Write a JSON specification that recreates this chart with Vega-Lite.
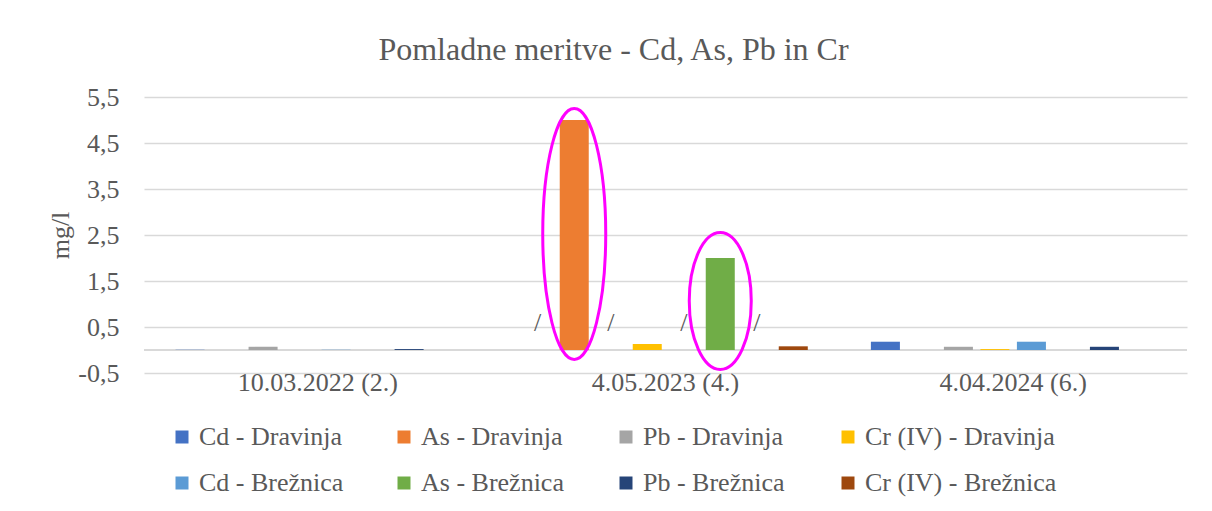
{
  "$schema": "https://vega.github.io/schema/vega-lite/v6.json",
  "width": 1043,
  "height": 276,
  "autosize": {"type": "none"},
  "padding": {"left": 144, "top": 97, "right": 25, "bottom": 138},
  "background": "white",
  "config": {
    "font": "Liberation Serif",
    "view": {"stroke": null}
  },
  "title": {
    "text": "Pomladne meritve - Cd, As, Pb in Cr",
    "font": "Liberation Serif",
    "fontSize": 32,
    "fontWeight": "normal",
    "color": "#595959",
    "anchor": "middle",
    "dx": -52,
    "baseline": "alphabetic",
    "offset": -8
  },
  "data": {
    "values": [
      {"date": "10.03.2022 (2.)", "series": "Cd - Dravinja", "value": 0.005, "note": null},
      {"date": "10.03.2022 (2.)", "series": "Pb - Dravinja", "value": 0.07, "note": null},
      {"date": "10.03.2022 (2.)", "series": "Cd - Brežnica", "value": 0.005, "note": null},
      {"date": "10.03.2022 (2.)", "series": "Pb - Brežnica", "value": 0.02, "note": null},
      {"date": "4.05.2023 (4.)", "series": "Cd - Dravinja", "value": null, "note": "/"},
      {"date": "4.05.2023 (4.)", "series": "As - Dravinja", "value": 5.0, "note": null},
      {"date": "4.05.2023 (4.)", "series": "Pb - Dravinja", "value": null, "note": "/"},
      {"date": "4.05.2023 (4.)", "series": "Cr (IV) - Dravinja", "value": 0.13, "note": null},
      {"date": "4.05.2023 (4.)", "series": "Cd - Brežnica", "value": null, "note": "/"},
      {"date": "4.05.2023 (4.)", "series": "As - Brežnica", "value": 2.0, "note": null},
      {"date": "4.05.2023 (4.)", "series": "Pb - Brežnica", "value": null, "note": "/"},
      {"date": "4.05.2023 (4.)", "series": "Cr (IV) - Brežnica", "value": 0.08, "note": null},
      {"date": "4.04.2024 (6.)", "series": "Cd - Dravinja", "value": 0.18, "note": null},
      {"date": "4.04.2024 (6.)", "series": "Pb - Dravinja", "value": 0.07, "note": null},
      {"date": "4.04.2024 (6.)", "series": "Cr (IV) - Dravinja", "value": 0.02, "note": null},
      {"date": "4.04.2024 (6.)", "series": "Cd - Brežnica", "value": 0.18, "note": null},
      {"date": "4.04.2024 (6.)", "series": "Pb - Brežnica", "value": 0.07, "note": null}
    ]
  },
  "layer": [
    {
      "mark": {"type": "rule", "color": "#d9d9d9", "strokeWidth": 1.3},
      "encoding": {"y": {"datum": 0, "type": "quantitative", "scale": {"domain": [-0.5, 5.5], "nice": false, "zero": false}}}
    },
    {
      "mark": {"type": "bar"},
      "encoding": {
        "x": {
          "field": "date",
          "type": "nominal",
          "sort": null,
          "scale": {"domain": ["10.03.2022 (2.)", "4.05.2023 (4.)", "4.04.2024 (6.)"], "paddingInner": 0.16, "paddingOuter": 0.08},
          "axis": {
            "title": null,
            "domain": false,
            "ticks": false,
            "tickSize": 0,
            "labelAngle": 0,
            "labelFont": "Liberation Serif",
            "labelFontSize": 26,
            "labelColor": "#595959",
            "labelBaseline": "alphabetic",
            "labelPadding": 17
          }
        },
        "xOffset": {
          "field": "series",
          "type": "nominal",
          "sort": null,
          "scale": {
            "domain": ["Cd - Dravinja", "As - Dravinja", "Pb - Dravinja", "Cr (IV) - Dravinja", "Cd - Brežnica", "As - Brežnica", "Pb - Brežnica", "Cr (IV) - Brežnica"],
            "paddingInner": 0.205,
            "paddingOuter": 0.1025
          }
        },
        "y": {
          "field": "value",
          "type": "quantitative",
          "scale": {"domain": [-0.5, 5.5], "nice": false, "zero": false},
          "axis": {
            "title": "mg/l",
            "values": [-0.5, 0.5, 1.5, 2.5, 3.5, 4.5, 5.5],
            "labelExpr": "replace(toString(datum.value), '.', ',')",
            "grid": true,
            "gridColor": "#d9d9d9",
            "gridWidth": 1.3,
            "domain": false,
            "ticks": false,
            "tickSize": 0,
            "labelPadding": 25,
            "labelFont": "Liberation Serif",
            "labelFontSize": 26,
            "labelColor": "#595959",
            "titleFont": "Liberation Serif",
            "titleFontSize": 26,
            "titleFontWeight": "normal",
            "titleColor": "#595959",
            "titleAngle": -90,
            "titleAlign": "center",
            "titleBaseline": "middle",
            "titleX": -84,
            "titleY": 138
          }
        },
        "color": {
          "field": "series",
          "type": "nominal",
          "sort": null,
          "scale": {
            "domain": ["Cd - Dravinja", "As - Dravinja", "Pb - Dravinja", "Cr (IV) - Dravinja", "Cd - Brežnica", "As - Brežnica", "Pb - Brežnica", "Cr (IV) - Brežnica"],
            "range": ["#4472c4", "#ed7d31", "#a5a5a5", "#ffc000", "#5b9bd5", "#70ad47", "#264478", "#9e480e"]
          },
          "legend": {
            "title": null,
            "orient": "none",
            "legendX": 25,
            "legendY": 327,
            "direction": "horizontal",
            "columns": 4,
            "gridAlign": "all",
            "columnPadding": 0,
            "rowPadding": 20,
            "symbolType": "square",
            "symbolSize": 169,
            "symbolStrokeWidth": 0,
            "labelOffset": 4,
            "labelFont": "Liberation Serif",
            "labelFontSize": 26,
            "labelColor": "#595959",
            "labelLimit": 400,
            "padding": 0
          }
        }
      }
    },
    {
      "transform": [{"filter": "datum.note === '/'"}],
      "mark": {"type": "text", "font": "Liberation Serif", "fontSize": 26, "color": "#595959", "baseline": "alphabetic", "dy": -19},
      "encoding": {
        "x": {"field": "date", "type": "nominal", "sort": null},
        "xOffset": {"field": "series", "type": "nominal", "sort": null},
        "y": {"datum": 0, "type": "quantitative"},
        "text": {"field": "note"}
      }
    },
    {
      "transform": [{"filter": "datum.date === '4.05.2023 (4.)' && datum.series === 'As - Dravinja'"}],
      "mark": {
        "type": "point",
        "filled": false,
        "color": "#ff00ff",
        "strokeWidth": 3,
        "opacity": 1,
        "size": 63001,
        "yOffset": 114,
        "shape": "M0,-1C0.1386,-1,0.251,-0.5523,0.251,0C0.251,0.5523,0.1386,1,0,1C-0.1386,1,-0.251,0.5523,-0.251,0C-0.251,-0.5523,-0.1386,-1,0,-1Z"
      },
      "encoding": {
        "x": {"field": "date", "type": "nominal", "sort": null},
        "xOffset": {"field": "series", "type": "nominal", "sort": null},
        "y": {"field": "value", "type": "quantitative"}
      }
    },
    {
      "transform": [{"filter": "datum.date === '4.05.2023 (4.)' && datum.series === 'As - Brežnica'"}],
      "mark": {
        "type": "point",
        "filled": false,
        "color": "#ff00ff",
        "strokeWidth": 3,
        "opacity": 1,
        "size": 18769,
        "yOffset": 43,
        "shape": "M0,-1C0.25,-1,0.4526,-0.5523,0.4526,0C0.4526,0.5523,0.25,1,0,1C-0.25,1,-0.4526,0.5523,-0.4526,0C-0.4526,-0.5523,-0.25,-1,0,-1Z"
      },
      "encoding": {
        "x": {"field": "date", "type": "nominal", "sort": null},
        "xOffset": {"field": "series", "type": "nominal", "sort": null},
        "y": {"field": "value", "type": "quantitative"}
      }
    }
  ]
}
